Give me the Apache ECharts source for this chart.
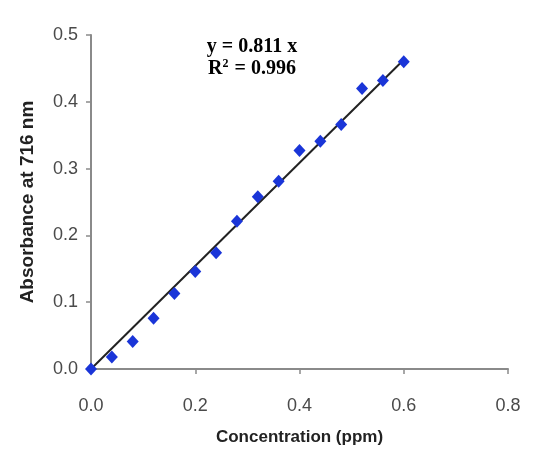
<!DOCTYPE html>
<html>
<head>
<meta charset="utf-8">
<script src="https://cdn.jsdelivr.net/npm/echarts@6/dist/echarts.min.js"></script>
<style>
  html, body { margin: 0; padding: 0; background: #fff; }
  #chart { width: 547px; height: 450px; }
</style>
</head>
<body>
<div id="chart"></div>
<script>
// concentration (ppm) and absorbance readings
const concentration = [0, 0.04, 0.08, 0.12, 0.16, 0.2, 0.24, 0.28, 0.32, 0.36, 0.4, 0.44, 0.48, 0.52, 0.56, 0.6]
const absorbance = [0, 0.018, 0.041, 0.076, 0.113, 0.146, 0.174, 0.221, 0.258, 0.281, 0.327, 0.341, 0.366, 0.42, 0.432, 0.46]

// trend line end points as drawn
const trendX = [0, 0.6]
const trendY = [0, 0.463]

const xTicks = [0, 0.2, 0.4, 0.6, 0.8]
const yTicks = [0, 0.1, 0.2, 0.3, 0.4, 0.5]

const equationLines = ['{t|y = 0.811 x}', '{t|R}{sup|2}{t| = 0.996}']

const chart = echarts.init(document.getElementById('chart'))

const axisGrey = '#8a8a8a'
const labelColor = '#4a4a4a'
const serif = { fontFamily: 'Liberation Serif', fontWeight: 'bold', color: '#000' }

chart.setOption({
  backgroundColor: '#fff',
  animation: false,
  grid: { left: 91, right: 39, top: 35, bottom: 81, outerBoundsMode: 'none' },
  title: {
    text: equationLines.join('\n'),
    left: 247,
    top: 31,
    textAlign: 'center',
    textStyle: {
      ...serif,
      fontSize: 20,
      lineHeight: 22,
      rich: {
        t: { ...serif, fontSize: 20, lineHeight: 22 },
        sup: { ...serif, fontSize: 12, lineHeight: 22, verticalAlign: 'top', padding: [0, 1, 8, 0] }
      }
    }
  },
  xAxis: {
    type: 'value',
    min: xTicks[0],
    max: xTicks[xTicks.length - 1],
    interval: 0.2,
    name: 'Concentration (ppm)',
    nameLocation: 'middle',
    nameGap: 60,
    nameTextStyle: { fontFamily: 'Liberation Sans', fontWeight: 'bold', fontSize: 17, color: '#222' },
    axisLine: { lineStyle: { color: axisGrey, width: 2 } },
    axisTick: { show: true, length: 5, inside: false, lineStyle: { color: axisGrey, width: 1.5 } },
    axisLabel: { margin: 28, fontFamily: 'Liberation Sans', fontSize: 18, color: labelColor, formatter: v => v.toFixed(1) },
    splitLine: { show: false }
  },
  yAxis: {
    type: 'value',
    min: yTicks[0],
    max: yTicks[yTicks.length - 1],
    interval: 0.1,
    name: 'Absorbance at 716 nm',
    nameLocation: 'middle',
    nameGap: 54,
    nameTextStyle: { fontFamily: 'Liberation Sans', fontWeight: 'bold', fontSize: 19, color: '#222' },
    axisLine: { show: true, lineStyle: { color: axisGrey, width: 2 } },
    axisTick: { show: true, length: 5, inside: false, lineStyle: { color: axisGrey, width: 1.5 } },
    axisLabel: { margin: 13, fontFamily: 'Liberation Sans', fontSize: 18, color: labelColor, formatter: v => v.toFixed(1) },
    splitLine: { show: false }
  },
  series: [
    {
      name: 'trend',
      type: 'line',
      data: trendX.map((x, i) => [x, trendY[i]]),
      symbol: 'none',
      lineStyle: { color: '#222', width: 2 },
      z: 2
    },
    {
      name: 'data',
      type: 'scatter',
      data: concentration.map((x, i) => [x, absorbance[i]]),
      symbol: 'diamond',
      symbolSize: [12, 13],
      itemStyle: { color: '#1a35d8', opacity: 1 },
      z: 3
    }
  ]
})
</script>
</body>
</html>
